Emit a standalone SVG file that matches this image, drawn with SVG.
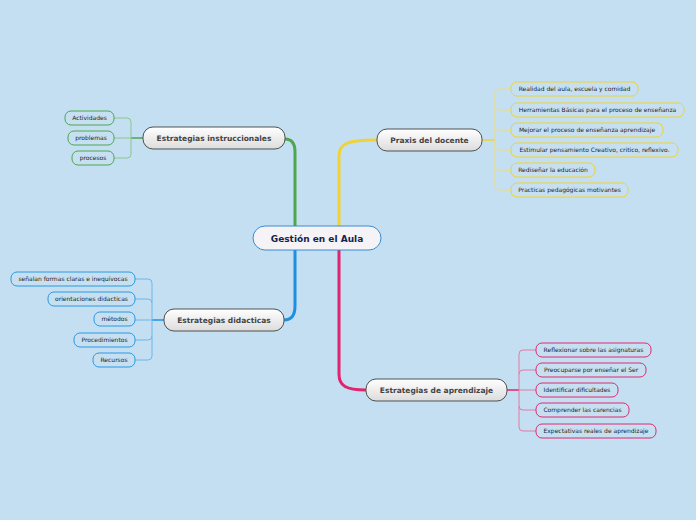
<svg xmlns="http://www.w3.org/2000/svg" width="696" height="520" viewBox="0 0 696 520">
<defs>
<linearGradient id="mg" x1="0" y1="0" x2="0" y2="1">
<stop offset="0" stop-color="#ffffff"/>
<stop offset="1" stop-color="#dcdcdc"/>
</linearGradient>
<style>
.main rect{fill:url(#mg);stroke:#505050;stroke-width:1}
.main text{font-family:"DejaVu Sans",Verdana,sans-serif;font-size:7.5px;font-weight:bold;fill:#444;text-anchor:middle}
.leaf rect{fill:#c6e0f2;stroke-width:1}
.leaf text{font-family:"DejaVu Sans",Verdana,sans-serif;font-size:6px;fill:#222;text-anchor:middle}
.g rect{stroke:#4ea64e}.y rect{stroke:#f0d232}.b rect{stroke:#2a98e2}.p rect{stroke:#e02a72}
#connectors path{fill:none}
.tg{stroke:#4ea64e;stroke-width:3}.ty{stroke:#f2d232;stroke-width:3}.tb{stroke:#1e90e0;stroke-width:3}.tp{stroke:#e0246e;stroke-width:3}
.sg{stroke:#4ea64e;stroke-width:1.5}.sy{stroke:#f2d232;stroke-width:1.5}.sb{stroke:#1e90e0;stroke-width:1.5}.sp{stroke:#e0246e;stroke-width:1.5}
.lg{stroke:#8cc88c;stroke-width:1}.ly{stroke:#f0dc78;stroke-width:1}.lb{stroke:#6cb8ec;stroke-width:1}.lp{stroke:#e67aa6;stroke-width:1}
</style>
</defs>
<rect width="696" height="520" fill="#c3dff1"/>
<g id="connectors">
<path class="tg" d="M295,226 V152 Q295,139 285,139"/>
<path class="ty" d="M339,226 V156 C339,144 346,140 377,140"/>
<path class="tb" d="M295,250 V306 Q295,320 284,320"/>
<path class="tp" d="M339,250 V374 C339,386 346,390 366,390"/>
<path class="sg" d="M143,138 H131"/>
<path class="lg" d="M131,138 H114 M131,138 V122 Q131,118 127,118 H114 M131,138 V154 Q131,158 127,158 H114"/>
<path class="sy" d="M482,140 H495"/>
<path class="ly" d="M495,140 V93 Q495,89 499,89 H511 M495,106 Q495,110 499,110 H511 M495,126 Q495,130 499,130 H511 M495,146 Q495,150 499,150 H511 M495,166 Q495,170 499,170 H511 M495,140 V186 Q495,190 499,190 H511"/>
<path class="sb" d="M164,320 H152"/>
<path class="lb" d="M152,320 V283 Q152,279 148,279 H135 M152,303 Q152,299 148,299 H135 M152,320 H135 M152,336 Q152,340 148,340 H135 M152,320 V356 Q152,360 148,360 H135"/>
<path class="sp" d="M507,390 H519"/>
<path class="lp" d="M519,390 V354 Q519,350 523,350 H536 M519,374 Q519,370 523,370 H536 M519,390 H536 M519,406 Q519,410 523,410 H536 M519,390 V427 Q519,431 523,431 H536"/>
</g>
<g id="center">
<rect x="253" y="226" width="128" height="24" rx="12" fill="#f5f3f5" stroke="#3a8ad2" stroke-width="1"/>
<text x="317" y="241.5" font-family="DejaVu Sans,Verdana,sans-serif" font-size="9px" font-weight="bold" fill="#13234f" text-anchor="middle">Gestión en el Aula</text>
</g>
<g id="n-instruccionales" class="main"><rect x="143" y="127" width="142" height="22" rx="10"/><text x="214" y="141">Estrategias instruccionales</text></g>
<g id="n-praxis" class="main"><rect x="377" y="129" width="105" height="22" rx="10"/><text x="429.5" y="143">Praxis del docente</text></g>
<g id="n-didacticas" class="main"><rect x="164" y="309" width="120" height="22" rx="10"/><text x="224" y="323">Estrategias didacticas</text></g>
<g id="n-aprendizaje" class="main"><rect x="366" y="379" width="141" height="22" rx="10"/><text x="436.5" y="393">Estrategias de aprendizaje</text></g>
<g id="l-actividades" class="leaf g"><rect x="65" y="111" width="49" height="14" rx="6"/><text x="89.5" y="120">Actividades</text></g>
<g id="l-problemas" class="leaf g"><rect x="68" y="131" width="46" height="14" rx="6"/><text x="91" y="140">problemas</text></g>
<g id="l-procesos" class="leaf g"><rect x="72" y="151" width="42" height="14" rx="6"/><text x="93" y="160">procesos</text></g>
<g id="l-realidad" class="leaf y"><rect x="511" y="82" width="127" height="14" rx="6"/><text x="574.5" y="91">Realidad del aula, escuela y comidad</text></g>
<g id="l-herramientas" class="leaf y"><rect x="511" y="103" width="173" height="14" rx="6"/><text x="597.5" y="112">Herramientas Básicas para el proceso de enseñanza</text></g>
<g id="l-mejorar" class="leaf y"><rect x="511" y="123" width="152" height="14" rx="6"/><text x="587" y="132">Mejorar el proceso de enseñanza aprendizaje</text></g>
<g id="l-estimular" class="leaf y"><rect x="511" y="143" width="167" height="14" rx="6"/><text x="594.5" y="152">Estimular pensamiento Creativo, critico, reflexivo.</text></g>
<g id="l-redisenar" class="leaf y"><rect x="511" y="163" width="84" height="14" rx="6"/><text x="553" y="172">Rediseñar la educación</text></g>
<g id="l-practicas" class="leaf y"><rect x="511" y="183" width="117" height="14" rx="6"/><text x="569.5" y="192">Practicas pedagógicas motivantes</text></g>
<g id="l-senalan" class="leaf b"><rect x="11" y="272" width="124" height="14" rx="6"/><text x="73" y="281">señalan formas claras e inequívocas</text></g>
<g id="l-orientaciones" class="leaf b"><rect x="48" y="292" width="87" height="14" rx="6"/><text x="91.5" y="301">orientaciones didacticas</text></g>
<g id="l-metodos" class="leaf b"><rect x="94" y="312" width="41" height="14" rx="6"/><text x="114.5" y="321">métodos</text></g>
<g id="l-procedimientos" class="leaf b"><rect x="74" y="333" width="61" height="14" rx="6"/><text x="104.5" y="342">Procedimientos</text></g>
<g id="l-recursos" class="leaf b"><rect x="93" y="353" width="42" height="14" rx="6"/><text x="114" y="362">Recursos</text></g>
<g id="l-reflexionar" class="leaf p"><rect x="536" y="343" width="115" height="14" rx="6"/><text x="593.5" y="352">Reflexionar sobre las asignaturas</text></g>
<g id="l-preocuparse" class="leaf p"><rect x="536" y="363" width="110" height="14" rx="6"/><text x="591" y="372">Preocuparse por enseñar el Ser</text></g>
<g id="l-identificar" class="leaf p"><rect x="536" y="383" width="82" height="14" rx="6"/><text x="577" y="392">Identificar dificultades</text></g>
<g id="l-comprender" class="leaf p"><rect x="536" y="403" width="93" height="14" rx="6"/><text x="582.5" y="412">Comprender las carencias</text></g>
<g id="l-expectativas" class="leaf p"><rect x="536" y="424" width="120" height="14" rx="6"/><text x="596" y="433">Expectativas reales de aprendizaje</text></g>
</svg>
